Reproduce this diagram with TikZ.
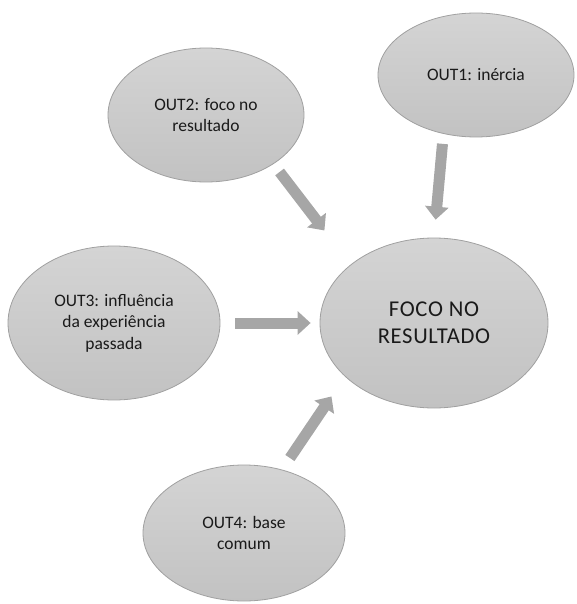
\documentclass[tikz,border=0pt]{standalone}
\usepackage{fontspec}
\setmainfont{Carlito}
\usetikzlibrary{shapes.geometric,arrows.meta}
\definecolor{bolhaborda}{HTML}{A0A0A0}
\definecolor{bolhatopo}{HTML}{D4D4D4}
\definecolor{bolhabase}{HTML}{C2C2C2}
\definecolor{setacor}{HTML}{A6A6A6}
\definecolor{texto}{HTML}{1A1A1A}
\newcommand{\bolha}[4][]{\node[bolha,#1] at (#2) (#3) {#4}}

\begin{document}
\begin{tikzpicture}[x=1pt,y=-1pt,
	bolha/.style={ellipse,draw=bolhaborda,line width=0.8pt,top color=bolhatopo,bottom color=bolhabase,
		inner sep=0pt,align=center,text=texto,font=\fontsize{17.5}{21.5}\selectfont},
	seta/.style={draw=setacor,line width=11pt,-{Triangle[width=23pt,length=13pt,color=setacor]}}]
	\useasboundingbox (0,0) rectangle (576,604);
	
	\bolha[minimum width=228pt,minimum height=170pt,font=\fontsize{22.6}{27}\selectfont\addfontfeature{LetterSpace=3}]{434,323}{foco}{FOCO NO\\RESULTADO};
	\bolha[minimum width=196pt,minimum height=124pt]{476,75}{out1}{OUT1: inércia};
	\bolha[minimum width=196pt,minimum height=134pt]{206,115}{out2}{OUT2: foco no\\resultado};
	\bolha[minimum width=212pt,minimum height=154pt]{114,323}{out3}{OUT3: influência\\da experiência\\passada};
	\bolha[minimum width=202pt,minimum height=136pt]{244,533}{out4}{OUT4: base\\comum};
	
	\draw[seta,shorten <=10pt,shorten >=18pt] (out1.241) -- (foco.north);
	\draw[seta,shorten <=10pt,shorten >=43pt] (out2.324) -- (foco.145);
	\draw[seta,shorten <=15pt,shorten >=9pt] (out3.east) -- (foco.west);
	\draw[seta,shorten <=14pt,shorten >=24pt] (out4.59) -- (foco.211);
\end{tikzpicture}
\end{document}
